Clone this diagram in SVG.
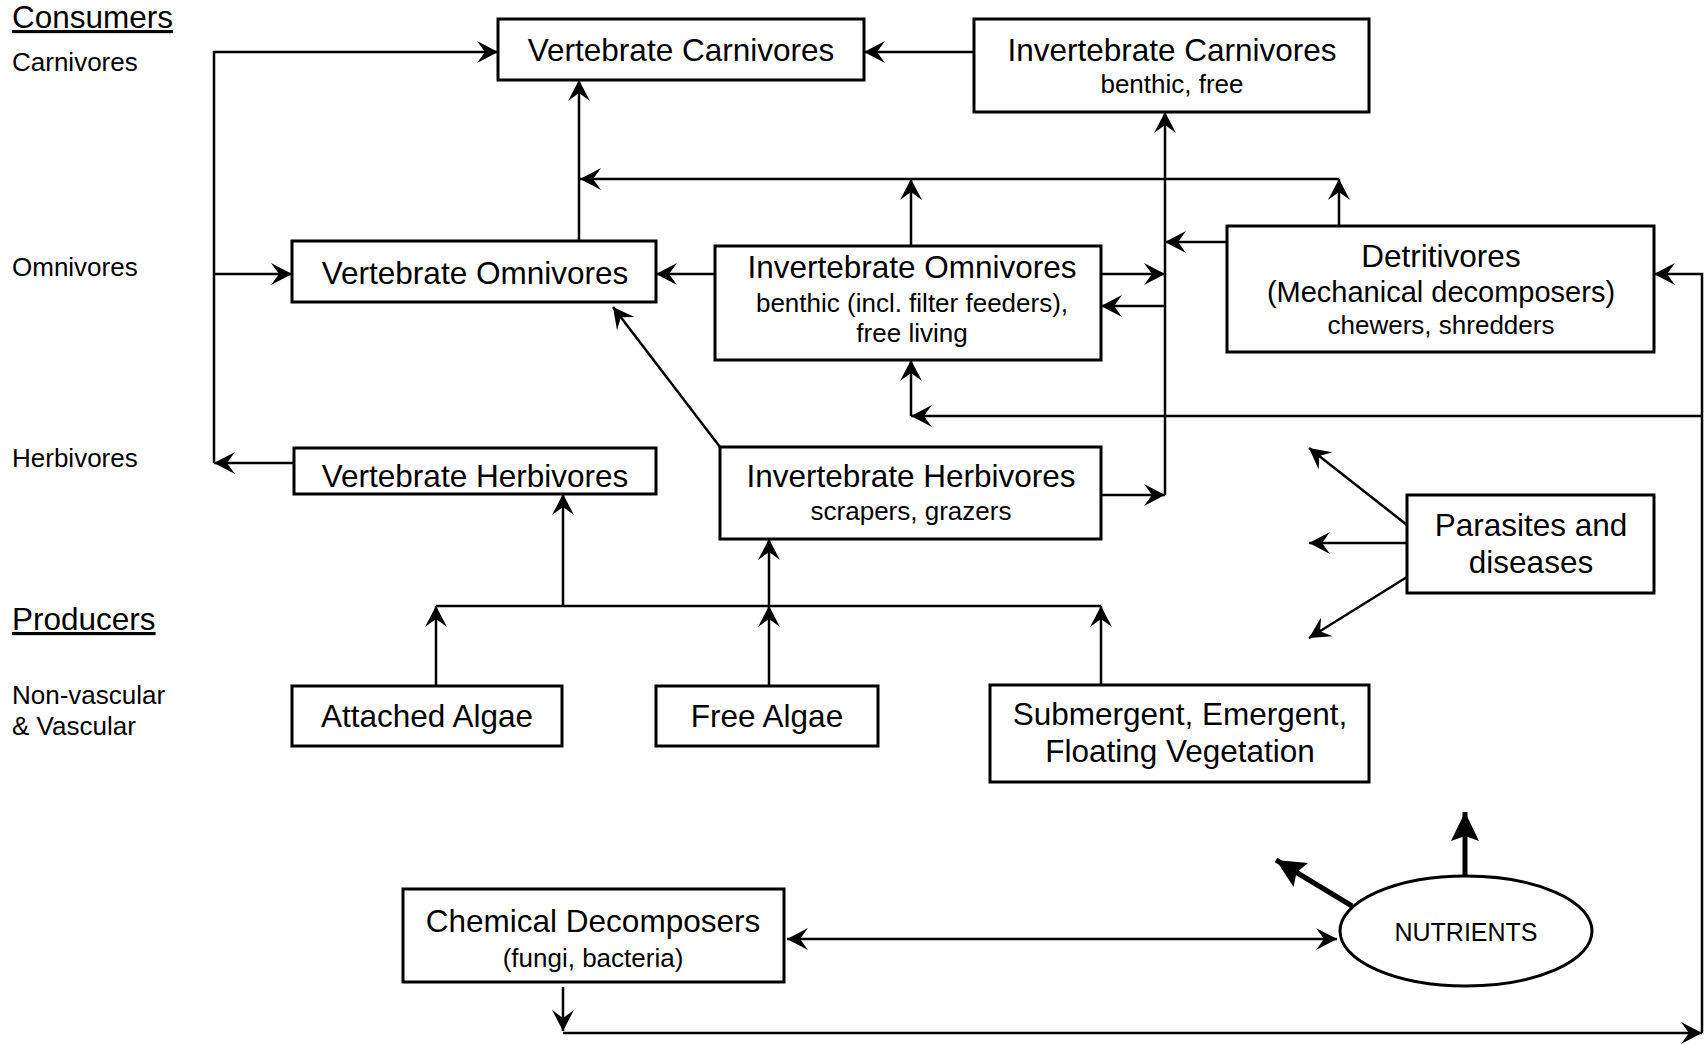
<svg xmlns="http://www.w3.org/2000/svg" width="1705" height="1045" viewBox="0 0 1705 1045">
<style>
text{font-family:"Liberation Sans",Arial,sans-serif;fill:#000}
.m{font-size:31.5px;text-anchor:middle}
.s{font-size:26px;text-anchor:middle}
.side{font-size:26px}
.hd{font-size:31.5px;text-decoration:underline}
.box{fill:#fff;stroke:#000;stroke-width:3}
.ln{fill:none;stroke:#000;stroke-width:2.5}
.a{marker-end:url(#ah)}
.thick{fill:none;stroke:#000;stroke-width:5;marker-end:url(#big)}
</style>
<defs>
<marker id="ah" markerUnits="userSpaceOnUse" viewBox="-23 -12 25 24" refX="0" refY="0" markerWidth="25" markerHeight="24" orient="auto-start-reverse">
<path d="M0,0 L-21,-11 L-13,0 L-21,11 Z" fill="#000"/>
</marker>
<marker id="big" markerUnits="userSpaceOnUse" viewBox="-32 -16 34 32" refX="0" refY="0" markerWidth="34" markerHeight="32" orient="auto">
<path d="M0,0 L-29,-14 L-24,0 L-29,14 Z" fill="#000"/>
</marker>
</defs>
<rect width="1705" height="1045" fill="#fff"/>

<g id="side-labels">
<text class="hd" x="12" y="28">Consumers</text>
<text class="side" x="12" y="71">Carnivores</text>
<text class="side" x="12" y="276">Omnivores</text>
<text class="side" x="12" y="467">Herbivores</text>
<text class="hd" x="12" y="630">Producers</text>
<text class="side" x="12" y="704">Non-vascular</text>
<text class="side" x="12" y="735">&amp; Vascular</text>
</g>

<g id="connectors">
<path class="ln a" d="M294,463 H214"/>
<path class="ln a" d="M214,463 V52 H498"/>
<path class="ln a" d="M214,274 H292"/>
<path class="ln a" d="M974,52 H864"/>
<path class="ln a" d="M579,241 V80"/>
<path class="ln a" d="M1339,179 H580"/>
<path class="ln a" d="M1339,226 V179"/>
<path class="ln a" d="M911,246 V179"/>
<path class="ln a" d="M715,274 H656"/>
<path class="ln a" d="M720,447 L613,307"/>
<path class="ln a" d="M1165,495 V112"/>
<path class="ln a" d="M1227,242 H1165"/>
<path class="ln a" d="M1101,274 H1165"/>
<path class="ln a" d="M1165,306 H1101"/>
<path class="ln a" d="M1101,495 H1165"/>
<path class="ln a" d="M1702,1033 V274 H1654"/>
<path class="ln a" d="M1702,416 H911"/>
<path class="ln a" d="M911,416 V360"/>
<path class="ln a" d="M563,1033 H1702"/>
<path class="ln a" d="M563,987 V1031"/>
<path class="ln" d="M787,939 H1337" marker-start="url(#ah)" marker-end="url(#ah)"/>
<path class="ln" d="M436,606 H1101"/>
<path class="ln a" d="M563,606 V494"/>
<path class="ln a" d="M769,606 V539"/>
<path class="ln a" d="M436,686 V606"/>
<path class="ln a" d="M769,686 V606"/>
<path class="ln a" d="M1101,685 V606"/>
<path class="ln a" d="M1407,525 L1309,448"/>
<path class="ln a" d="M1407,543 H1309"/>
<path class="ln a" d="M1407,577 L1309,638"/>
<path class="thick" d="M1465,876 V812"/>
<path class="thick" d="M1352,906 L1276,860"/>
</g>

<g id="vertebrate-carnivores">
<rect class="box" x="498" y="19" width="366" height="61"/>
<text class="m" x="681" y="61">Vertebrate Carnivores</text>
</g>
<g id="invertebrate-carnivores">
<rect class="box" x="974" y="19" width="395" height="93"/>
<text class="m" x="1172" y="61">Invertebrate Carnivores</text>
<text class="s" x="1172" y="93">benthic, free</text>
</g>
<g id="vertebrate-omnivores">
<rect class="box" x="292" y="241" width="364" height="61"/>
<text class="m" x="475" y="284">Vertebrate Omnivores</text>
</g>
<g id="invertebrate-omnivores">
<rect class="box" x="715" y="246" width="386" height="114"/>
<text class="m" x="912" y="278">Invertebrate Omnivores</text>
<text class="s" x="912" y="312">benthic (incl. filter feeders),</text>
<text class="s" x="912" y="342">free living</text>
</g>
<g id="detritivores">
<rect class="box" x="1227" y="226" width="427" height="126"/>
<text class="m" x="1441" y="267">Detritivores</text>
<text x="1441" y="302" style="font-size:29px;text-anchor:middle">(Mechanical decomposers)</text>
<text class="s" x="1441" y="334">chewers, shredders</text>
</g>
<g id="vertebrate-herbivores">
<rect class="box" x="294" y="448" width="362" height="46"/>
<text class="m" x="475" y="487">Vertebrate Herbivores</text>
</g>
<g id="invertebrate-herbivores">
<rect class="box" x="720" y="447" width="381" height="92"/>
<text class="m" x="911" y="487">Invertebrate Herbivores</text>
<text class="s" x="911" y="520">scrapers, grazers</text>
</g>
<g id="parasites">
<rect class="box" x="1407" y="495" width="247" height="98"/>
<text class="m" x="1531" y="536">Parasites and</text>
<text class="m" x="1531" y="573">diseases</text>
</g>
<g id="attached-algae">
<rect class="box" x="292" y="686" width="270" height="60"/>
<text class="m" x="427" y="727">Attached Algae</text>
</g>
<g id="free-algae">
<rect class="box" x="656" y="686" width="222" height="60"/>
<text class="m" x="767" y="727">Free Algae</text>
</g>
<g id="vegetation">
<rect class="box" x="990" y="685" width="379" height="97"/>
<text class="m" x="1180" y="725">Submergent, Emergent,</text>
<text class="m" x="1180" y="762">Floating Vegetation</text>
</g>
<g id="chemical-decomposers">
<rect class="box" x="403" y="889" width="381" height="93"/>
<text class="m" x="593" y="932">Chemical Decomposers</text>
<text class="s" x="593" y="967">(fungi, bacteria)</text>
</g>
<g id="nutrients">
<ellipse cx="1466" cy="931" rx="126" ry="55" fill="#fff" stroke="#000" stroke-width="3"/>
<text x="1466" y="941" style="font-size:25px;text-anchor:middle">NUTRIENTS</text>
</g>
</svg>
